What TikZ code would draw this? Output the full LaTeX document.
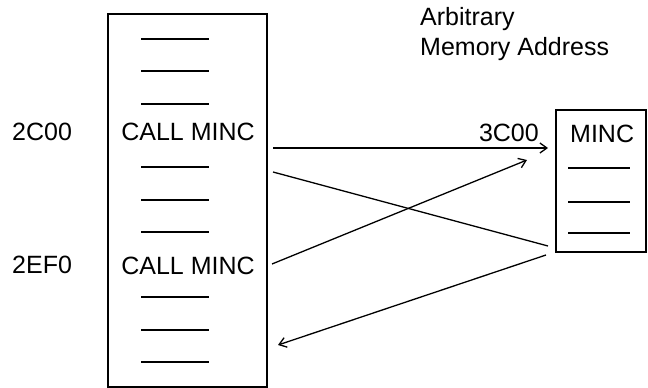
\documentclass[tikz,border=0pt]{standalone}
\usepackage{fontspec}
\setmainfont{Liberation Sans}
\usetikzlibrary{arrows.meta}
\tikzset{
  membox/.style={draw, line width=2.2pt, inner sep=0pt},
  dashline/.style={line width=1.2pt},
  conn/.style={line width=1.3pt},
  arr/.style={conn, -{Straight Barb[length=7pt,width=10pt,line width=1.3pt]}},
  lbl/.style={font=\fontsize{25}{29}\selectfont, inner sep=0pt, anchor=base west},
}
\begin{document}
\begin{tikzpicture}[x=1pt,y=-1pt]
\useasboundingbox (0,0) rectangle (648,388);
% boxes
\node (L) [membox, minimum width=159pt, minimum height=373pt, anchor=north west] at (107,13) {};
\node (R) [membox, minimum width=90pt, minimum height=142pt, anchor=north west] at (555,109) {};
% left dashes
\foreach \yy in {39,71,104,167,200,232,297,330,362}
  \draw[dashline] (141,\yy) -- (209,\yy);
% right dashes
\foreach \yy in {168,202,233}
  \draw[dashline] (568,\yy) -- (630,\yy);
% texts
\node (t1) [lbl, anchor=base] at (188,140) {CALL MINC};
\node (t2) [lbl, anchor=base] at (188,274) {CALL MINC};
\node (a1) [lbl] at (12,140) {2C00};
\node (a2) [lbl] at (12,273) {2EF0};
\node (a3) [lbl, anchor=base east] at (539,141) {3C00};
\node (m) [lbl] at (570,142) {MINC};
\node (n1) [lbl] at (420,25) {Arbitrary};
\node (n2) [lbl] at (420,55) {Memory Address};
% connector ends
\coordinate (c1s) at (273,148);
\coordinate (c1e) at (548,148);
\coordinate (c2s) at (273,172);
\coordinate (c2e) at (548,246);
\coordinate (c3s) at (272,264);
\coordinate (c3e) at (527,160);
\coordinate (c4s) at (546,255);
\coordinate (c4e) at (278,345);
\draw[arr] (c1s) -- (c1e);
\draw[conn] (c2s) -- (c2e);
\draw[arr] (c3s) -- (c3e);
\draw[arr] (c4s) -- (c4e);
\end{tikzpicture}
\end{document}
